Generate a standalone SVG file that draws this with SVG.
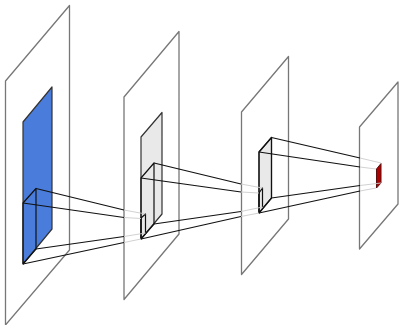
<svg xmlns="http://www.w3.org/2000/svg" width="399" height="325" viewBox="0 0 399 325">
<style>
.plane{fill:none;stroke:#777;stroke-width:1.3;stroke-linejoin:round}
.face{stroke:#333;stroke-width:1.2;stroke-linejoin:round}
.box{fill:none;stroke:#111;stroke-width:1.2;stroke-linejoin:round}
.ray{fill:none;stroke:#111;stroke-width:1.2}
.ghost{fill:none;stroke:#ccc;stroke-width:.9}
</style>
<rect width="399" height="325" fill="#fff"/>
<g id="layer1">
<polygon class="plane" points="5.5,81 69.5,5.5 69.5,250 5.5,325"/>
<polygon class="face" fill="#4a7ddb" points="23,122 52,87 52,229 23,264"/>
<polyline class="box" points="23,264 23,203 36,188.500 36,249 23,264"/>
</g>
<g id="layer2">
<polygon class="plane" points="124,97 179,31.500 179,234 124,299.500"/>
<polygon class="face" fill="#e9e9e9" points="141,137 162,112.500 162,214 141,239"/>
<polyline class="box" points="141,239 141,178 154,163 154,224 141,239"/>
<polyline class="box" points="141,239 141,218 145.500,214 145.500,233"/>
</g>
<g id="layer3">
<polygon class="plane" points="241.500,112 288.500,56.500 288.500,219 241.500,274.500"/>
<polygon class="face" fill="#e9e9e9" points="259,152 271.500,137.500 271.500,198 259,213"/>
<polyline class="box" points="259,213 259,152 271.500,137.500 271.500,198 259,213"/>
<polyline class="box" points="259,213 259,193 262.500,188 262.500,207"/>
</g>
<g id="layer4">
<polygon class="plane" points="359.500,127 398,82 398,204 359.500,249"/>
<polygon fill="#b00000" stroke="#5a1010" stroke-width="1" stroke-linejoin="round" points="376.500,169 381,163.500 381,183 376.500,188"/>
</g>
<g id="connectors">
<path class="ghost" d="M124,210 145.500,214M124,217.500 141,218.500M124,236.500 145.500,233M124,242.500 141,239"/>
<path class="ghost" d="M241,184 262.500,188M241,192 259,193M241,211.500 262.500,207M241,216.500 259,213"/>
<path class="ghost" d="M360,158 381,163M360,167 376,169M360,185.500 381,183M360,191 376,188"/>
<path class="ray" d="M36,188.500 124,210M23,203 124,217.500M36,249 124,236.500M23,264 124,242.500"/>
<path class="ray" d="M154,163 241,184M141,178 241,192M154,224 241,211.500M141,239 241,216.500"/>
<path class="ray" d="M271.500,137.500 360,158M259,152 360,167M271.500,198 360,185.500M259,213 360,191"/>
</g>
</svg>
